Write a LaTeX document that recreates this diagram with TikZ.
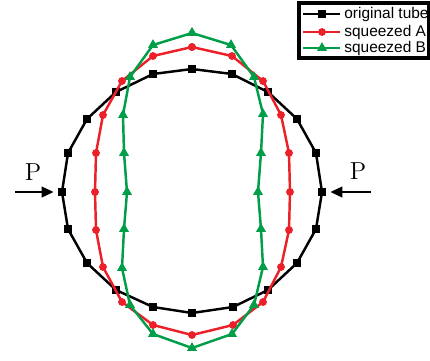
\documentclass[tikz,border=0pt]{standalone}
\usepackage{fontspec}
\newfontfamily\legfont{Liberation Sans}
\usetikzlibrary{arrows.meta, plotmarks}
\definecolor{Tubred}{RGB}{236,32,40}
\definecolor{Tubgreen}{RGB}{0,158,72}

\begin{document}
\begin{tikzpicture}[x=0.02cm, y=0.02cm,
  orig/.style={draw=black, line width=1.4pt,
               mark=square*, mark size=1.9pt,
               mark options={fill=black, line width=0.4pt}},
  sqA/.style ={draw=Tubred, line width=1.4pt,
               mark=*, mark size=2.0pt,
               mark options={fill=Tubred, line width=0.4pt}},
  sqB/.style ={draw=Tubgreen, line width=1.4pt,
               mark=triangle*, mark size=2.9pt,
               mark options={fill=Tubgreen, line width=0.4pt}},
  parr/.style={-{Triangle[length=0.24cm, width=0.22cm]},
               line width=0.8pt, shorten >=0.17cm},
  plab/.style={font=\fontsize{14}{16}\selectfont},
  leg/.style ={anchor=west, inner sep=0pt,
               font=\legfont\fontsize{8.8}{10}\selectfont},
]
\useasboundingbox (0,0) rectangle (430,360);

%% ═══ Tubo original ═══
\draw[orig] plot coordinates {
  (192,291) (232,286) (268,268) (297,241) (316,207) (322,168)
  (316,131) (297,97) (268,70) (233,53) (192,47) (153,53)
  (116,70) (87,97) (68,131) (62,168) (68,207) (87,241)
  (116,268) (153,286) (192,291)};

%% ═══ Squeezed A ═══
\draw[sqA] plot coordinates {
  (192,313) (232,304) (263,279) (281,245) (289,207) (290,168)
  (289,130) (281,93) (263,58) (233,35) (192,25) (153,35)
  (122,58) (103,93) (96,130) (95,168) (96,207) (103,245)
  (122,279) (153,304) (192,313)};

%% ═══ Squeezed B ═══
\draw[sqB] plot coordinates {
  (192,327) (231,315) (254,283) (263,246) (261,207) (258,168)
  (261,131) (263,93) (254,55) (232,26) (192,12) (153,26)
  (130,55) (122,92) (124,131) (127,168) (124,207) (123,245)
  (130,283) (153,315) (192,327)};

%% ═══ Cargas P ═══
\coordinate (OW) at (62,168);
\coordinate (OE) at (322,168);
\coordinate (AW) at (15,168);
\coordinate (AE) at (371,168);
\draw[parr] (AW) -- (OW);
\draw[parr] (AE) -- (OE);
\node[plab] (PW) at (33,188) {P};
\node[plab] (PE) at (358,189) {P};

%% ═══ Leyenda ═══
\draw[line width=2pt] (299,302) rectangle (428.5,357);
\draw[orig, mark indices={2}] plot coordinates {(303,346) (322,346) (340,346)};
\draw[sqA, mark indices={2}]  plot coordinates {(303,328) (322,328) (340,328)};
\draw[sqB, mark indices={2}]  plot coordinates {(303,312) (322,312) (340,312)};
\node[leg] (LgO) at (344,346) {original tube};
\node[leg] (LgA) at (344,328) {squeezed A};
\node[leg] (LgB) at (344,312) {squeezed B};

\end{tikzpicture}
\end{document}
